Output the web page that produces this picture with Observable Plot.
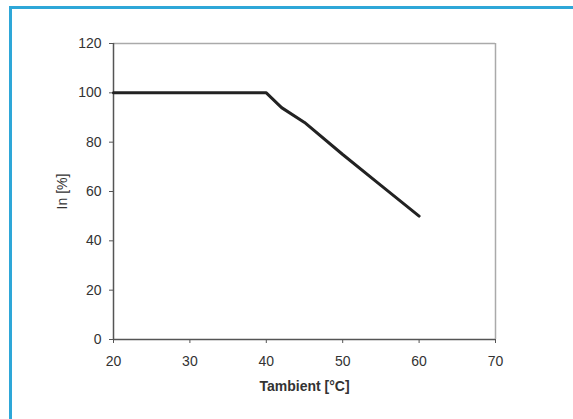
<!DOCTYPE html>
<html><head><meta charset="utf-8">
<script src="https://cdn.jsdelivr.net/npm/d3@7"></script>
<script src="https://cdn.jsdelivr.net/npm/@observablehq/plot@0.6"></script>
<style>
body{margin:0;background:#fff;}
#wrap{position:relative;width:573px;height:419px;overflow:hidden;}
#border{position:absolute;left:9px;top:6px;width:700px;height:600px;border-left:3px solid #2ea7d8;border-top:3px solid #2ea7d8;pointer-events:none;}
#chart{position:absolute;left:0;top:0;}
g[aria-label="x-axis label"] text{font-weight:bold;}
</style>
</head><body>
<div id="wrap"><div id="chart"></div><div id="border"></div></div>
<script>
const temps = [20, 40, 42, 45, 50, 55, 60];
const current = [100, 100, 94, 88, 75, 62.5, 50];
const xTicks = [20, 30, 40, 50, 60, 70];
const yTicks = [0, 20, 40, 60, 80, 100, 120];
const xLabel = "Tambient [°C]";
const yLabel = "In [%]";

const data = temps.map((t, i) => ({t, v: current[i]}));

const chart = Plot.plot({
  width: 573,
  height: 419,
  marginLeft: 113,
  marginRight: 78,
  marginTop: 43,
  marginBottom: 80,
  style: {fontFamily: "'Liberation Sans', Arial, sans-serif", fontSize: "14px", background: "transparent", color: "#333"},
  x: {domain: [20, 70]},
  y: {domain: [0, 120]},
  marks: [
    Plot.ruleY([120], {stroke: "#aaa", strokeWidth: 1.5}),
    Plot.ruleX([70], {stroke: "#aaa", strokeWidth: 1.5}),
    Plot.axisY({ticks: yTicks, tickSize: 4, tickPadding: 8, stroke: "#555", fill: "#333", fontSize: 14,
      label: yLabel, labelAnchor: "center", labelOffset: 56, labelArrow: "none"}),
    Plot.axisX({ticks: xTicks, tickSize: 4, tickPadding: 13, stroke: "#555", fill: "#333", fontSize: 14,
      label: xLabel, labelAnchor: "center", labelOffset: 51, labelArrow: "none"}),
    Plot.ruleX([20], {stroke: "#555", strokeWidth: 1.5}),
    Plot.ruleY([0], {stroke: "#555", strokeWidth: 1.5}),
    Plot.line(data, {x: "t", y: "v", stroke: "#222", strokeWidth: 3, strokeLinejoin: "miter"})
  ]
});
document.getElementById("chart").appendChild(chart);
</script>
</body></html>
